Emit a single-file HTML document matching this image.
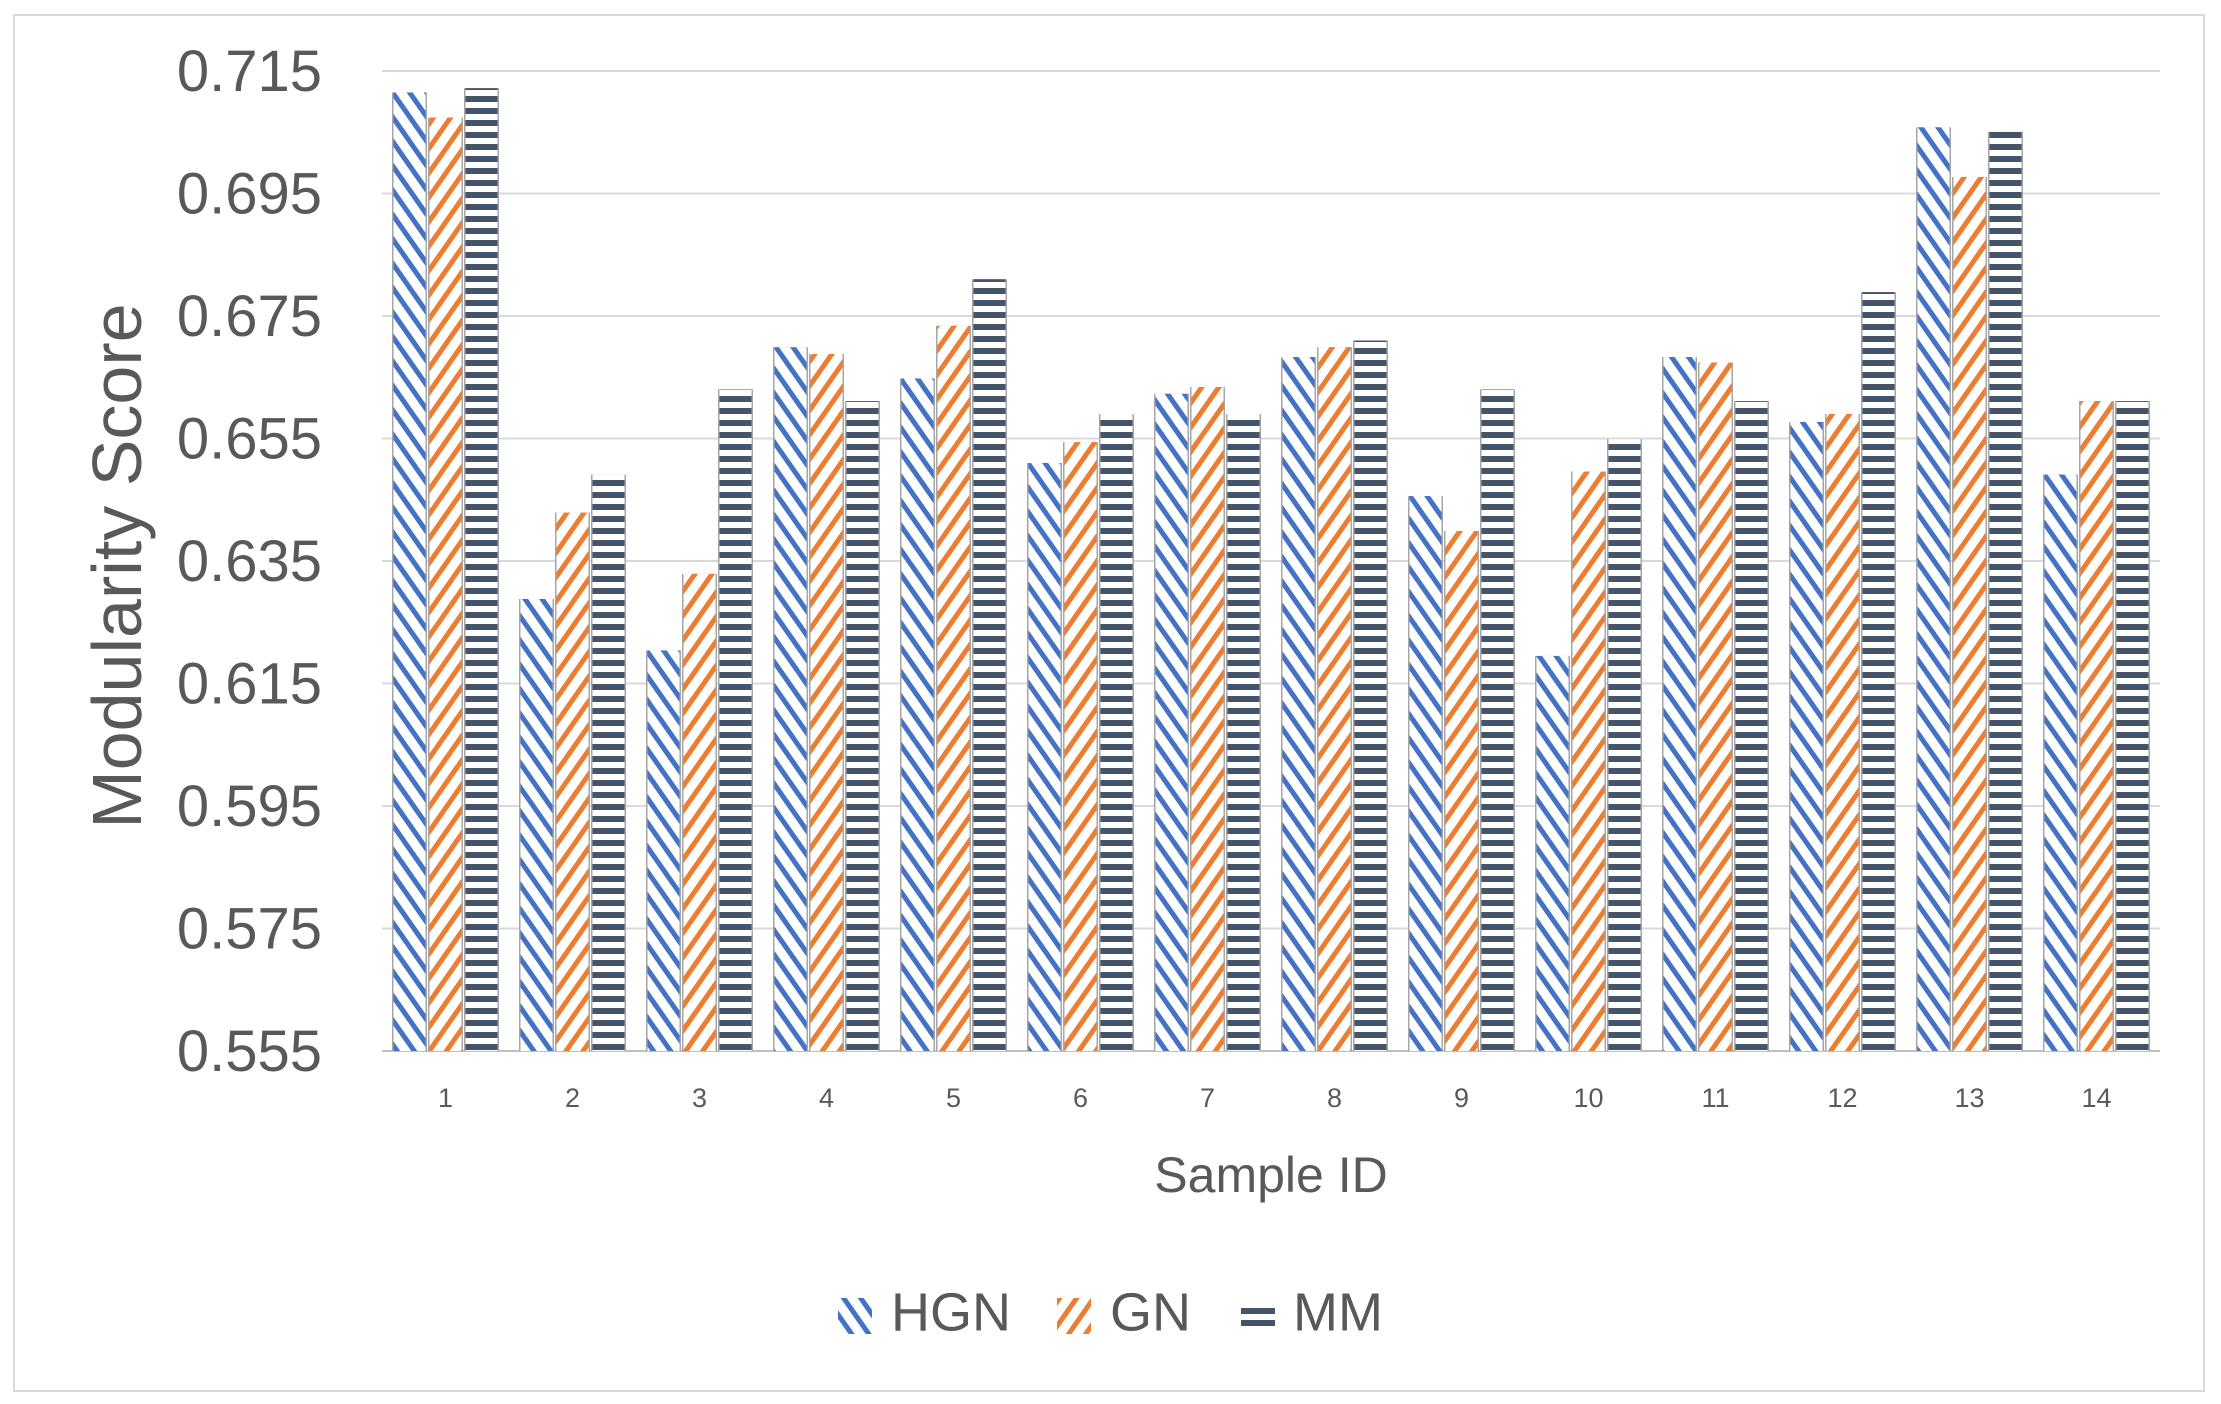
<!DOCTYPE html>
<html><head><meta charset="utf-8"><style>
html,body{margin:0;padding:0;background:#fff}
svg{display:block}
text{font-family:"Liberation Sans",sans-serif;fill:#595959}
</style></head><body>
<svg id="s" width="2221" height="1404" viewBox="0 0 2221 1404" xmlns="http://www.w3.org/2000/svg">
<defs>
<pattern id="pH" patternUnits="userSpaceOnUse" width="14" height="14" patternTransform="rotate(-35)">
<rect width="14" height="14" fill="#fff"/><rect x="0" y="0" width="5" height="14" fill="#4472C4"/></pattern>
<pattern id="pG" patternUnits="userSpaceOnUse" width="14" height="14" patternTransform="rotate(35)">
<rect width="14" height="14" fill="#fff"/><rect x="0" y="0" width="5" height="14" fill="#ED7D31"/></pattern>
<pattern id="pM" patternUnits="userSpaceOnUse" width="12" height="12">
<rect width="12" height="12" fill="#fff"/><rect x="0" y="0" width="12" height="6" fill="#44546A"/></pattern>
</defs>
<rect x="14" y="15" width="2190" height="1376" fill="#fff" stroke="#d9d9d9" stroke-width="2"/>
<g id="grid"></g>
<g id="bars"></g>
<g id="labels"></g>
<text x="0" y="0" transform="translate(141,566) rotate(-90)" text-anchor="middle" font-size="70">Modularity Score</text>
<text x="1271" y="1192" text-anchor="middle" font-size="50">Sample ID</text>
<rect x="838" y="1298" width="34" height="36" fill="url(#pH)"/>
<text x="891" y="1316" dominant-baseline="middle" font-size="54">HGN</text>
<rect x="1057" y="1298" width="34" height="36" fill="url(#pG)"/>
<text x="1110" y="1316" dominant-baseline="middle" font-size="54">GN</text>
<rect x="1241" y="1304" width="34" height="26" fill="url(#pM)"/>
<text x="1293" y="1316" dominant-baseline="middle" font-size="54">MM</text>
</svg>
<script>
var NS="http://www.w3.org/2000/svg";
function el(p,t,a,txt){var e=document.createElementNS(NS,t);for(var k in a)e.setAttribute(k,a[k]);if(txt!==undefined)e.textContent=txt;document.getElementById(p).appendChild(e);return e;}
var L=382,R=2160,T=71,B=1051;
function y(v){return T+(0.715-v)/0.16*(B-T);}
var ticks=["0.715","0.695","0.675","0.655","0.635","0.615","0.595","0.575","0.555"];
ticks.forEach(function(t){var yy=y(parseFloat(t));
 el("grid","line",{x1:L,x2:R,y1:yy,y2:yy,stroke:(t=="0.555"?"#bfbfbf":"#d9d9d9"),"stroke-width":2});
 el("labels","text",{x:322,y:yy+20,"text-anchor":"end","font-size":58},t);});
var d=[[0.7115,0.7074,0.7122],[0.6288,0.6429,0.6491],[0.6204,0.6329,0.663],[0.6699,0.6688,0.6611],[0.6648,0.6734,0.681],[0.651,0.6544,0.659],[0.6623,0.6634,0.659],[0.6683,0.6699,0.671],[0.6456,0.6399,0.663],[0.6195,0.6496,0.6549],[0.6683,0.6674,0.6611],[0.6577,0.659,0.6789],[0.7058,0.6977,0.7051],[0.6491,0.6611,0.6611]];
var cw=(R-L)/14,bw=32,gap=4,pats=["pH","pG","pM"];
d.forEach(function(g,i){var c=L+cw*(i+0.5);var x0=c-(3*bw+2*gap)/2;
 g.forEach(function(v,j){var x=x0+j*(bw+gap),yy=y(v);
  el("bars","rect",{x:x-1.5,y:yy,width:bw+3,height:B-yy,fill:"#a6a6a6"});
  el("bars","rect",{x:x,y:yy,width:bw,height:B-yy,fill:"url(#"+pats[j]+")"});});
 el("labels","text",{x:c,y:1107,"text-anchor":"middle","font-size":27},String(i+1));});
</script>
</body></html>
